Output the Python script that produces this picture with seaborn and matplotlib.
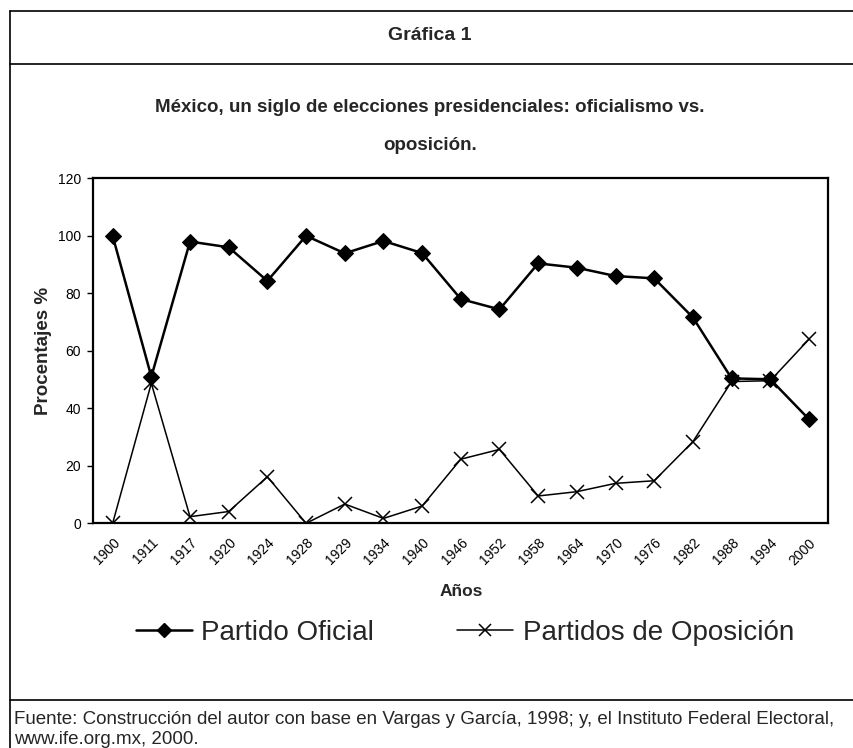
import pandas as pd
import numpy as np
import seaborn as sns
import matplotlib.pyplot as plt
from matplotlib.lines import Line2D

# datos ==========================================================================
anios = ['1900', '1911', '1917', '1920', '1924', '1928', '1929', '1934', '1940', '1946',
         '1952', '1958', '1964', '1970', '1976', '1982', '1988', '1994', '2000']
partido_oficial = [100, 51, 98, 96, 84.3, 100, 93.9, 98.2, 94, 78,
                   74.4, 90.4, 88.9, 86, 85.2, 71.6, 50.4, 50.1, 36.2]
oposicion = [0, 48.7, 2.3, 4.1, 16.2, 0, 6.7, 1.7, 6, 22.3,
             25.7, 9.5, 11, 13.9, 14.8, 28.4, 49.3, 49.6, 64]

df = pd.DataFrame({'idx': np.arange(len(anios)), 'anio': anios,
                   'oficial': partido_oficial, 'oposicion': oposicion})

sns.set_theme(style="white")
plt.rcParams['font.family'] = ['Liberation Sans', 'DejaVu Sans']

W, H = 854, 748
fig = plt.figure(figsize=(W / 100, H / 100), dpi=100)
ax = fig.add_axes([93.3 / W, 1 - 523.3 / H, (828.3 - 93.3) / W, (523.3 - 178.3) / H])

sns.lineplot(data=df, x='idx', y='oficial', ax=ax, color='black', linewidth=1.8,
             marker='D', markersize=8, markeredgecolor='black', label='Partido Oficial')
sns.lineplot(data=df, x='idx', y='oposicion', ax=ax, color='black', linewidth=1.1,
             marker='x', markersize=9.5, markeredgewidth=1.1, markeredgecolor='black',
             label='Partidos de Oposición')

ax.set_xlim(-0.5, len(anios) - 0.5)
ax.set_ylim(0, 120)
ax.set_yticks(range(0, 121, 20))
ax.set_xticks(df['idx'])
ax.set_xticklabels(anios, rotation=45, ha='right', rotation_mode='anchor')
ax.tick_params(axis='x', length=0, pad=9, labelsize=10, colors='black')
ax.tick_params(axis='y', length=4, width=1, direction='out', pad=5, labelsize=10,
               colors='black', left=True)
for s in ax.spines.values():
    s.set_color('black')
    s.set_linewidth(1.6)
ax.set_xlabel('')
ax.set_ylabel('Procentajes %', fontsize=13.5, fontweight='bold', labelpad=4)
ax.get_legend().remove()

fig.text(461 / W, 1 - 592 / H, 'Años', ha='center', va='center', fontsize=12.5, fontweight='bold')

# titulos
fig.text(430 / W, 1 - 36 / H, 'Gráfica 1', ha='center', va='center', fontsize=14, fontweight='bold')
fig.text(430 / W, 1 - 107 / H, 'México, un siglo de elecciones presidenciales: oficialismo vs.',
         ha='center', va='center', fontsize=13.5, fontweight='bold')
fig.text(430 / W, 1 - 146 / H, 'oposición.', ha='center', va='center', fontsize=13.5, fontweight='bold')

# leyenda
handles = [Line2D([], [], color='black', lw=1.8, marker='D', ms=7.5),
           Line2D([], [], color='black', lw=1.1, marker='x', ms=9, mew=1.1)]
fig.legend(handles, ['Partido Oficial', 'Partidos de Oposición'], loc='center',
           bbox_to_anchor=(465 / W, 1 - 633 / H), ncol=2, frameon=False, fontsize=20,
           handlelength=2.0, handletextpad=0.35, columnspacing=3.0)

# fuente
fig.text(14 / W, 1 - 720 / H,
         'Fuente: Construcción del autor con base en Vargas y García, 1998; y, el Instituto Federal Electoral,',
         ha='left', va='center', fontsize=13.5)
fig.text(14 / W, 1 - 739 / H, 'www.ife.org.mx, 2000.', ha='left', va='center', fontsize=13.5)

# marco
def linea(x0, y0, x1, y1, lw=1.2):
    fig.add_artist(Line2D([x0 / W, x1 / W], [1 - y0 / H, 1 - y1 / H], color='black', lw=lw))

linea(10, 11, W, 11)
linea(10, 64, W, 64)
linea(10, 700, W, 700)
linea(10, 11, 10, H)

fig.savefig('out.png', dpi=100)
